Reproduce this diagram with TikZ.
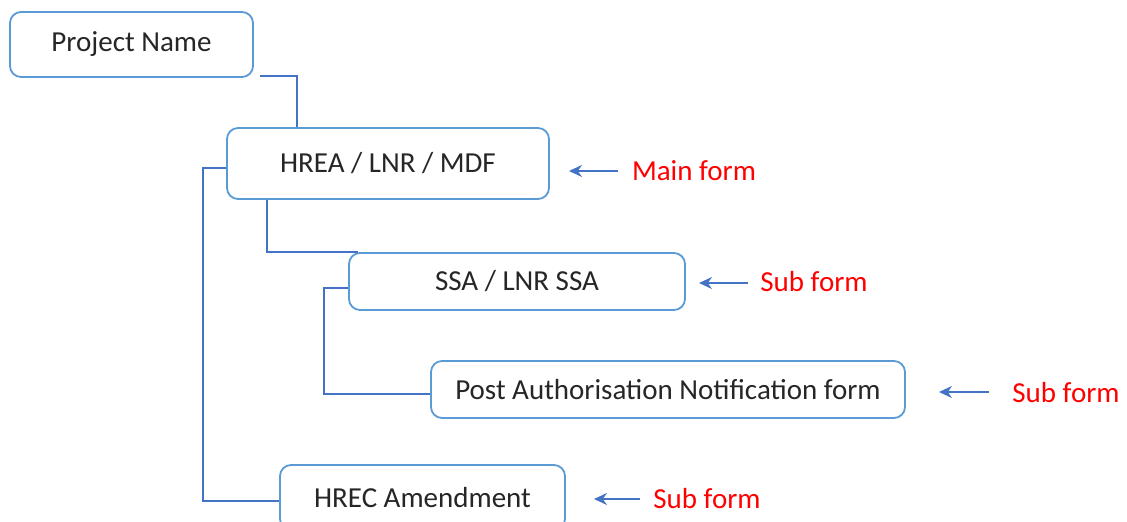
\documentclass[tikz,border=0pt]{standalone}
\usepackage{fontspec}
\setmainfont{Carlito}
\usetikzlibrary{arrows.meta}
\definecolor{boxblue}{HTML}{5B9BD5}
\definecolor{linkblue}{HTML}{4472C4}
\definecolor{txt}{HTML}{262626}
\begin{document}
\begin{tikzpicture}[x=1pt,y=-1pt,
  formbox/.style={draw=boxblue,line width=1.8pt,rounded corners=11pt,fill=white,
    text=txt,font=\fontsize{29}{34}\selectfont,inner sep=0pt},
  link/.style={draw=linkblue,line width=1.8pt},
  arr/.style={draw=linkblue,line width=1.6pt,-{Stealth[length=13pt,width=12pt]}},
  lbl/.style={text=red,font=\fontsize{29}{34}\selectfont,inner sep=0pt}]
\useasboundingbox (0,0) rectangle (1127,522);
% boxes
\node[formbox,minimum width=243pt,minimum height=65pt] (proj) at (131.5,44.5) {\raisebox{-2pt}{Project Name}};
\node[formbox,minimum width=322pt,minimum height=71pt] (hrea) at (388,163.5) {\raisebox{2pt}{HREA / LNR / MDF}};
\node[formbox,minimum width=336pt,minimum height=57pt] (ssa) at (517,281.5) {\raisebox{-2pt}{SSA / LNR SSA}};
\node[formbox,minimum width=474pt,minimum height=57pt] (pan) at (668,389.5) {\raisebox{-2pt}{Post Authorisation Notification form}};
\node[formbox,minimum width=285pt,minimum height=65pt] (hrec) at (422.5,497.5) {HREC Amendment};
% connectors
\draw[link] ([xshift=6pt,yshift=2pt]proj.south east) -| ([xshift=71pt]hrea.north west);
\draw[link] ([yshift=-4.5pt]hrea.west) -- ++(-23,0) |- ([yshift=-3.5pt]hrec.west);
\draw[link] ([xshift=41pt]hrea.south west) |- ([xshift=10pt]ssa.north west);
\draw[link] ([yshift=-6.5pt]ssa.west) -- ++(-24,0) |- ([yshift=-4.5pt]pan.west);
% labels
\node[lbl] (l1) at (694,171) {Main form};
\node[lbl] (l2) at (814,282) {Sub form};
\node[lbl] (l3) at (1066,393) {Sub form};
\node[lbl] (l4) at (707,499) {Sub form};
% arrows
\coordinate (a1s) at (618,171); \coordinate (a1e) at (569,171);
\coordinate (a2s) at (748,283); \coordinate (a2e) at (699,283);
\coordinate (a3s) at (989,392); \coordinate (a3e) at (939,392);
\coordinate (a4s) at (640,499); \coordinate (a4e) at (594,499);
\draw[arr] (a1s) -- (a1e);
\draw[arr] (a2s) -- (a2e);
\draw[arr] (a3s) -- (a3e);
\draw[arr] (a4s) -- (a4e);
\end{tikzpicture}
\end{document}
